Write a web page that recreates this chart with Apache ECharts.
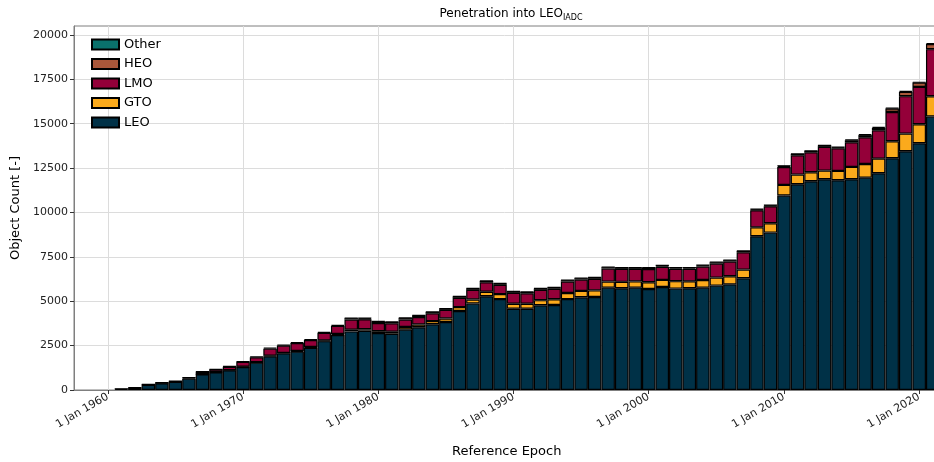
<!DOCTYPE html>
<html>
<head>
<meta charset="utf-8">
<script src="https://cdn.jsdelivr.net/npm/echarts@6/dist/echarts.min.js"></script>
<style>html,body{margin:0;padding:0;background:#fff}#c{width:934px;height:462px}</style>
</head>
<body>
<div id="c"></div>
<script>
const years = [];
for (let y = 1958; y <= 2021; y++) years.push(String(y));

// values for 1958 .. 2021
const LEO = [0,0,0,60,130,290,380,460,640,880,990,1110,1290,
  1540,1900,2060,2160,2380,2750,3100,3300,3340,3210,
  3170,3400,3530,3700,3830,4450,4870,5280,5120,4580,
  4580,4770,4790,5120,5220,5240,5765,5730,5765,5690,
  5800,5710,5730,5765,5880,5950,6290,8660,8865,10950,
  11590,11760,11870,11815,11870,11960,12210,13055,13450,13900,
  15400];
const GTO = [0,0,0,0,0,0,0,0,0,10,10,10,20,
  20,30,30,40,40,40,50,90,80,100,
  110,150,160,180,200,220,230,250,280,280,
  280,290,320,340,360,370,340,360,350,380,
  400,420,390,430,450,460,490,500,530,600,
  540,505,485,525,695,770,820,955,990,1070,
  1145];
const LMO = [0,0,0,0,0,20,20,30,50,140,150,190,280,
  280,400,410,440,400,430,460,580,560,460,
  480,420,420,440,480,520,540,540,520,610,
  590,580,590,650,640,650,730,730,705,740,
  740,700,710,760,790,825,980,960,950,1010,
  1090,1125,1335,1275,1390,1505,1600,1650,2110,2100,
  2650];
const HEO = [0,0,0,15,20,20,20,20,20,20,20,30,30,
  40,50,50,50,50,50,50,70,60,80,
  70,80,80,70,70,70,70,70,70,70,
  70,70,70,70,70,70,75,70,70,70,
  65,60,60,65,70,70,70,60,55,60,
  75,75,75,55,110,120,130,190,240,245,
  285];
const OTHER = [0,0,0,0,0,0,0,0,0,0,0,0,0,
  0,0,0,0,0,0,0,20,20,20,
  20,20,20,20,20,20,20,20,20,20,
  20,20,20,20,20,20,20,20,20,20,
  20,20,20,20,20,20,20,20,20,20,
  20,20,20,20,40,50,60,40,55,35,
  50];

const xTicks = [1960,1970,1980,1990,2000,2010,2020];
const yTicks = [0,2500,5000,7500,10000,12500,15000,17500,20000];

const seriesDefs = [
  ['LEO', LEO, '#003147'],
  ['GTO', GTO, '#fbaa1c'],
  ['LMO', LMO, '#940039'],
  ['HEO', HEO, '#a9573a'],
  ['Other', OTHER, '#0a716c']
];

const font = 'DejaVu Sans';
const chart = echarts.init(document.getElementById('c'), null, {renderer: 'canvas'});
chart.setOption({
  animation: false,
  backgroundColor: '#fff',
  title: {
    text: '{a|Penetration into LEO}{b|IADC}',
    left: 506, top: 1, textAlign: 'center',
    textStyle: {
      rich: {
        a: {fontFamily: font, fontSize: 12, fontWeight: 'normal', color: '#000', lineHeight: 16},
        b: {fontFamily: font, fontSize: 8, fontWeight: 'normal', color: '#000', lineHeight: 10, verticalAlign: 'bottom'}
      }
    }
  },
  legend: {
    orient: 'vertical', left: 86, top: 33,
    itemWidth: 27, itemHeight: 10, itemGap: 6.5, icon: 'rect',
    data: ['Other','HEO','LMO','GTO','LEO'],
    textStyle: {fontFamily: font, fontSize: 13, color: '#000'}
  },
  grid: {left: 74, right: -5.5, top: 26, bottom: 72, show: true, borderColor: '#7f7f7f', borderWidth: 1, outerBoundsMode: 'none', containLabel: false},
  xAxis: [{
    type: 'category', data: years, boundaryGap: true,
    show: false
  }, {
    type: 'value', min: 1957.5, max: 2021.5, position: 'bottom',
    name: 'Reference Epoch', nameLocation: 'middle', nameGap: 55,
    nameTextStyle: {fontFamily: font, fontSize: 13, color: '#000'},
    axisLine: {show: true, lineStyle: {color: '#7f7f7f', width: 1}},
    axisTick: {show: true, customValues: xTicks, length: 4, lineStyle: {color: '#333'}},
    axisLabel: {customValues: xTicks, rotate: 30, fontFamily: font, fontSize: 11, color: '#222', margin: 6,
      formatter: v => '1 Jan ' + v},
    splitLine: {show: true, lineStyle: {color: '#dcdcdc', width: 1}}
  }],
  yAxis: {
    type: 'value', min: 0, max: 20500,
    name: 'Object Count [-]', nameLocation: 'middle', nameGap: 48,
    nameTextStyle: {fontFamily: font, fontSize: 13, color: '#000'},
    axisLine: {show: true, lineStyle: {color: '#7f7f7f', width: 1}},
    axisTick: {show: true, customValues: yTicks, length: 4, lineStyle: {color: '#333'}},
    axisLabel: {customValues: yTicks, fontFamily: font, fontSize: 11, color: '#222', margin: 6,
      formatter: v => String(v)},
    splitLine: {show: true, lineStyle: {color: '#dcdcdc', width: 1}}
  },
  series: seriesDefs.map(([name, vals, color]) => ({
    name, type: 'bar', stack: 'total', barWidth: '100%', xAxisIndex: 0,
    data: vals.map(v => (v === 0 ? '-' : v)),
    itemStyle: {color, borderColor: '#000', borderWidth: 1.2}
  }))
});
</script>
</body>
</html>
